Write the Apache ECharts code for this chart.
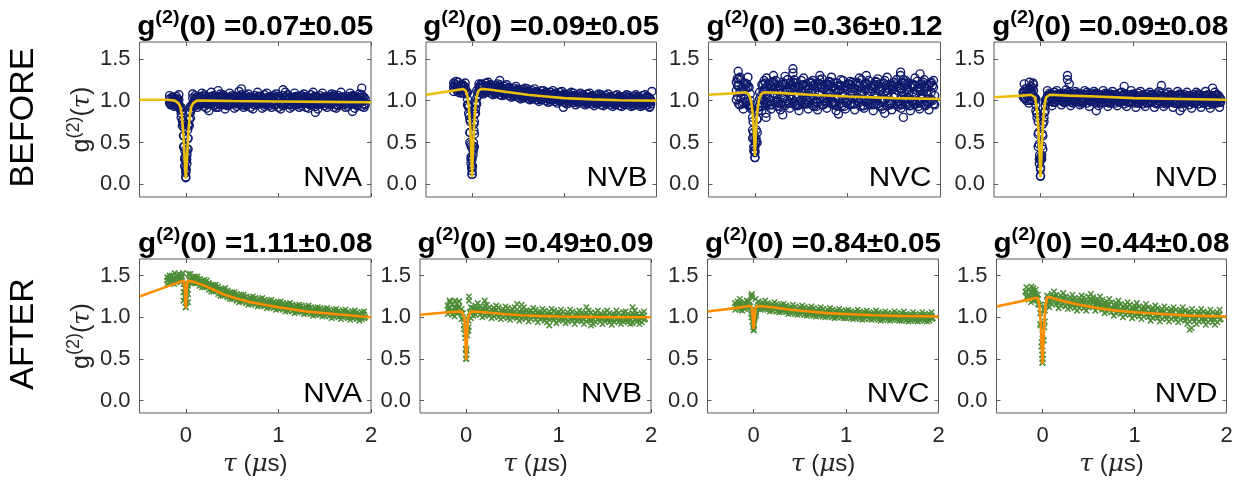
<!DOCTYPE html>
<html><head><meta charset="utf-8">
<script src="https://cdn.jsdelivr.net/npm/echarts@6/dist/echarts.min.js"></script>
<style>html,body{margin:0;padding:0;background:#fff}#c{width:1249px;height:489px}</style>
</head><body><div id="c"></div>
<script>
// ---------- shared sample grids (tau, microseconds) ----------
const XA = [-0.2,-0.15,-0.1,-0.05,0,0.05,0.1,0.15,0.2,0.25,0.3,0.35,0.4,0.45,0.5,0.55,0.6,0.65,0.7,0.75,0.8,0.85,0.9,0.95,1,1.05,1.1,1.15,1.2,1.25,1.3,1.35,1.4,1.45,1.5,1.55,1.6,1.65,1.7,1.75,1.8,1.85,1.9];
const XB = [-0.175,-0.125,-0.075,-0.025,0.025,0.075,0.125,0.175,0.225,0.275,0.325,0.375,0.425,0.475,0.525,0.575,0.625,0.675,0.725,0.775,0.825,0.875,0.925,0.975,1.025,1.075,1.125,1.175,1.225,1.275,1.325,1.375,1.425,1.475,1.525,1.575,1.625,1.675,1.725,1.775,1.825,1.875,1.925];
const XC = [-0.1875,-0.1375,-0.0875,-0.0375,0.0125,0.0625,0.1125,0.1625,0.2125,0.2625,0.3125,0.3625,0.4125,0.4625,0.5125,0.5625,0.6125,0.6625,0.7125,0.7625,0.8125,0.8625,0.9125,0.9625,1.0125,1.0625,1.1125,1.1625,1.2125,1.2625,1.3125,1.3625,1.4125,1.4625,1.5125,1.5625,1.6125,1.6625,1.7125,1.7625,1.8125,1.8625,1.9125];
const XD = [-0.1625,-0.1125,-0.0625,-0.0125,0.0375,0.0875,0.1375,0.1875,0.2375,0.2875,0.3375,0.3875,0.4375,0.4875,0.5375,0.5875,0.6375,0.6875,0.7375,0.7875,0.8375,0.8875,0.9375,0.9875,1.0375,1.0875,1.1375,1.1875,1.2375,1.2875,1.3375,1.3875,1.4375,1.4875,1.5375,1.5875,1.6375,1.6875,1.7375,1.7875,1.8375,1.8875,1.9375];
const xTicks = [0, 1, 2];
const yTicks = [0, 0.5, 1, 1.5];
const emitters = ['NVA','NVB','NVC','NVD'];
const rowLabels = ['BEFORE','AFTER'];
const g0Before = ['0.07\u00b10.05','0.09\u00b10.05','0.36\u00b10.12','0.09\u00b10.08'];
const g0After  = ['1.11\u00b10.08','0.49\u00b10.09','0.84\u00b10.05','0.44\u00b10.08'];

// ---------- BEFORE: NVA (rows 1,3,5 on XA; 2,4,6 on XB; 7,9 on XC; 8,10 on XD) ----------
const B_NVA_1 = [null,1.04,1.05,0.92,0.28,0.93,1.06,1.05,1.07,1.04,1.06,1.05,1.07,1.04,1.06,1.05,1.07,1.06,1.04,1.06,1.05,1.07,1.04,1.06,1.05,1.06,1.07,1.04,1.05,1.06,1.04,1.07,1.05,1.06,1.04,1.05,1.07,1.06,1.04,1.05,1.06,1.04,1.07];
const B_NVA_3 = [null,0.99,1.00,0.85,0.16,0.86,1.01,0.99,1.02,1.00,0.98,1.01,0.99,1.02,1.00,0.98,1.01,0.99,1.00,1.02,0.98,1.00,1.01,0.99,1.02,0.98,1.00,1.01,0.99,1.00,1.02,0.98,1.01,0.99,1.00,1.02,0.99,1.00,0.98,1.01,0.99,1.02,1.00];
const B_NVA_5 = [null,0.95,0.94,0.80,0.08,0.79,0.94,0.95,0.93,0.96,0.94,0.92,0.95,0.94,0.96,0.93,0.95,0.94,0.92,0.95,0.96,0.93,0.94,0.95,0.92,0.94,0.96,0.93,0.95,0.94,0.92,0.95,0.93,0.96,0.94,0.95,0.92,0.94,0.95,0.93,0.96,0.94,0.93];
const B_NVA_2 = [1.02,1.03,1.01,0.72,0.70,1.03,1.04,1.02,1.03,1.05,1.02,1.04,1.03,1.02,1.04,1.03,1.05,1.02,1.03,1.04,1.02,1.03,1.05,1.03,1.02,1.04,1.03,1.02,1.04,1.05,1.03,1.02,1.04,1.03,1.05,1.02,1.03,1.04,1.02,1.03,1.05,1.03,1.04];
const B_NVA_4 = [0.97,0.96,0.95,0.58,0.55,0.96,0.97,0.98,0.96,0.97,0.95,0.98,0.97,0.96,0.98,0.97,0.95,0.97,0.98,0.96,0.97,0.95,0.98,0.96,0.97,0.98,0.95,0.97,0.96,0.98,0.97,0.95,0.97,0.98,0.96,0.97,0.95,0.98,0.97,0.96,0.97,0.98,0.96];
const B_NVA_6 = [1.06,0.93,1.07,0.45,0.42,1.08,0.92,1.09,0.91,1.10,0.92,1.08,0.90,1.09,0.91,1.11,0.92,1.08,0.90,1.10,0.91,1.09,0.92,1.08,0.90,1.10,0.91,1.09,0.92,1.08,0.91,1.10,0.90,1.09,0.92,1.08,0.91,1.10,0.92,1.09,0.91,1.08,0.92];
const B_NVA_7 = [null,1.01,0.97,0.76,0.35,0.93,0.99,1.03,0.98,1.01,1.03,0.99,1.02,0.98,1.01,1.03,0.99,1.01,0.98,1.02,1.00,0.98,1.03,0.99,1.01,0.98,1.02,1.00,0.99,1.03,0.98,1.01,1.00,1.02,0.98,1.01,1.03,0.99,1.00,1.02,0.98,1.01,0.99];
const B_NVA_8 = [0.98,1.02,0.92,0.30,0.78,0.97,1.02,0.97,1.01,0.99,1.02,0.97,1.00,1.03,0.98,1.00,1.02,0.97,1.01,0.99,1.03,0.98,1.00,1.02,0.97,1.01,0.99,1.02,0.98,1.00,1.03,0.97,1.01,0.99,1.02,0.98,1.00,1.01,0.97,1.02,0.99,1.00,1.02];
const B_NVA_9 = [null,1.04,1.02,0.70,0.25,0.90,1.04,0.96,1.05,0.97,1.04,0.96,1.05,0.95,1.04,0.97,1.05,0.96,1.04,0.97,1.05,0.96,1.04,0.95,1.05,0.97,1.04,0.96,1.05,0.97,1.04,0.95,1.05,0.96,1.04,0.97,1.05,0.96,1.04,0.97,1.05,0.95,1.04];
const B_NVA_10 = [0.95,0.98,0.90,0.22,0.70,0.99,0.95,1.05,0.96,1.04,0.97,1.05,0.95,1.04,0.96,1.05,0.97,1.04,0.95,1.05,0.96,1.04,0.97,1.05,0.95,1.04,0.96,1.05,0.97,1.04,0.95,1.05,0.96,1.04,0.97,1.05,0.95,1.04,0.96,1.05,0.97,1.04,0.95];
const B_NVA_exX = [-0.04,-0.03,-0.02,-0.015,-0.01,-0.005,0,0.005,0.01,0.015,0.02,0.03,0.04,-0.02,0.02,-0.01,0.01,0,0.35,0.6,1.05,1.9,1.4,1.8,0.25];
const B_NVA_exY = [0.88,0.75,0.58,0.45,0.32,0.20,0.09,0.18,0.30,0.42,0.55,0.72,0.86,0.68,0.65,0.40,0.38,0.14,1.12,1.14,1.13,1.15,0.86,0.87,0.88];
const B_NVA_fitX = [-0.5,-0.2,-0.12,-0.08,-0.06,-0.045,-0.03,-0.02,-0.01,0,0.01,0.02,0.03,0.045,0.06,0.08,0.12,0.2,0.5,1.0,1.5,2.0];
const B_NVA_fitY = [1.01,1.01,1.0,0.97,0.93,0.84,0.66,0.47,0.25,0.07,0.25,0.47,0.66,0.84,0.93,0.97,1.0,1.0,0.995,0.99,0.985,0.98];

// ---------- BEFORE: NVB ----------
const B_NVB_1 = [1.21,1.22,1.19,1.10,0.30,1.12,1.20,1.21,1.19,1.18,1.19,1.17,1.16,1.15,1.14,1.13,1.14,1.12,1.11,1.12,1.10,1.10,1.09,1.10,1.08,1.08,1.09,1.07,1.07,1.08,1.06,1.06,1.07,1.06,1.05,1.06,1.05,1.05,1.06,1.05,1.05,1.06,1.05];
const B_NVB_3 = [1.16,1.15,1.16,1.02,0.20,1.03,1.15,1.16,1.14,1.13,1.12,1.12,1.11,1.10,1.09,1.08,1.08,1.07,1.06,1.06,1.05,1.05,1.04,1.04,1.03,1.03,1.02,1.02,1.02,1.01,1.01,1.01,1.00,1.01,1.00,1.00,0.99,1.00,1.00,0.99,1.00,1.00,0.99];
const B_NVB_5 = [1.11,1.10,1.09,0.95,0.12,0.96,1.09,1.10,1.09,1.08,1.07,1.07,1.06,1.05,1.04,1.03,1.03,1.02,1.01,1.01,1.00,0.99,0.99,0.99,0.98,0.97,0.98,0.97,0.97,0.96,0.96,0.96,0.95,0.96,0.95,0.95,0.94,0.95,0.95,0.94,0.95,0.94,0.95];
const B_NVB_2 = [1.19,1.18,1.16,0.78,0.75,1.16,1.17,1.17,1.16,1.15,1.15,1.14,1.13,1.12,1.11,1.10,1.10,1.09,1.08,1.08,1.07,1.07,1.06,1.06,1.05,1.05,1.05,1.04,1.04,1.04,1.03,1.03,1.04,1.03,1.02,1.03,1.02,1.03,1.02,1.02,1.03,1.02,1.03];
const B_NVB_4 = [1.14,1.13,1.10,0.62,0.60,1.11,1.12,1.12,1.11,1.10,1.10,1.09,1.08,1.07,1.06,1.05,1.05,1.04,1.03,1.03,1.02,1.02,1.01,1.01,1.00,1.00,1.00,0.99,0.99,1.00,0.98,0.98,0.99,0.98,0.97,0.98,0.97,0.98,0.97,0.97,0.98,0.97,0.98];
const B_NVB_6 = [1.23,1.09,1.21,0.50,0.45,1.20,1.08,1.22,1.07,1.20,1.06,1.19,1.04,1.17,1.02,1.15,1.01,1.14,0.99,1.12,0.98,1.12,0.97,1.11,0.96,1.10,0.95,1.09,0.95,1.09,0.94,1.08,0.94,1.08,0.93,1.07,0.93,1.07,0.93,1.07,0.93,1.07,0.92];
const B_NVB_7 = [1.17,1.14,1.13,0.92,0.45,1.10,1.16,1.13,1.15,1.12,1.14,1.11,1.12,1.09,1.10,1.09,1.07,1.08,1.05,1.07,1.04,1.06,1.03,1.05,1.02,1.04,1.01,1.03,1.01,1.02,1.00,1.02,0.99,1.02,0.99,1.01,0.99,1.01,0.98,1.01,0.99,1.00,0.99];
const B_NVB_8 = [1.15,1.17,1.10,0.30,0.90,1.14,1.14,1.16,1.12,1.14,1.11,1.13,1.09,1.11,1.07,1.09,1.06,1.08,1.05,1.06,1.03,1.06,1.02,1.04,1.01,1.04,1.02,1.03,1.00,1.03,0.99,1.02,1.00,1.01,0.98,1.01,1.00,0.99,1.01,0.98,1.00,0.99,1.01];
const B_NVB_9 = [1.20,1.12,1.17,0.85,0.40,1.06,1.19,1.11,1.18,1.09,1.16,1.08,1.14,1.06,1.12,1.04,1.11,1.03,1.10,1.02,1.09,1.01,1.08,1.00,1.07,0.99,1.06,0.98,1.06,0.98,1.05,0.97,1.05,0.97,1.04,0.96,1.04,0.96,1.04,0.96,1.04,0.96,1.04];
const B_NVB_10 = [1.12,1.19,1.08,0.25,0.85,1.18,1.11,1.19,1.10,1.17,1.09,1.15,1.07,1.13,1.05,1.12,1.04,1.10,1.03,1.09,1.02,1.08,1.01,1.07,1.00,1.06,0.99,1.06,0.98,1.05,0.98,1.05,0.97,1.04,0.97,1.04,0.96,1.04,0.96,1.04,0.96,1.04,0.96];
const B_NVB_exX = [-0.04,-0.03,-0.02,-0.015,-0.01,-0.005,0,0.005,0.01,0.015,0.02,0.03,0.04,-0.01,0.01,0,-0.02,0.02,0.3,1.95,0.99,1.93];
const B_NVB_exY = [0.95,0.82,0.62,0.48,0.33,0.20,0.12,0.22,0.35,0.50,0.64,0.84,0.97,0.45,0.42,0.16,0.75,0.72,1.24,1.11,0.92,0.93];
const B_NVB_fitX = [-0.5,-0.2,-0.1,-0.07,-0.05,-0.035,-0.02,-0.01,0,0.01,0.02,0.035,0.05,0.07,0.1,0.2,0.4,0.6,0.8,1.0,1.3,1.6,2.0];
const B_NVB_fitY = [1.07,1.12,1.14,1.12,1.05,0.92,0.68,0.42,0.09,0.42,0.68,0.92,1.05,1.12,1.14,1.13,1.10,1.07,1.05,1.03,1.015,1.005,1.0];

// ---------- BEFORE: NVC ----------
const B_NVC_1 = [1.22,1.25,1.19,1.08,0.45,1.10,1.24,1.20,1.23,1.18,1.22,1.25,1.19,1.21,1.24,1.18,1.22,1.20,1.25,1.19,1.23,1.21,1.18,1.24,1.20,1.22,1.19,1.25,1.21,1.18,1.23,1.20,1.24,1.19,1.22,1.18,1.25,1.21,1.19,1.23,1.20,1.18,1.22];
const B_NVC_3 = [1.12,1.10,1.14,1.00,0.38,1.02,1.11,1.15,1.09,1.13,1.10,1.12,1.14,1.08,1.11,1.13,1.09,1.12,1.10,1.14,1.08,1.12,1.11,1.09,1.13,1.10,1.12,1.08,1.14,1.11,1.09,1.12,1.10,1.13,1.08,1.11,1.09,1.13,1.10,1.12,1.08,1.11,1.10];
const B_NVC_5 = [1.01,1.03,0.99,0.92,0.32,0.93,1.00,1.02,1.04,0.99,1.03,1.00,1.02,1.04,0.98,1.01,1.03,0.99,1.02,1.00,1.04,0.98,1.02,1.01,0.99,1.03,1.00,1.02,0.98,1.01,1.03,0.99,1.02,1.00,1.04,0.99,1.01,1.03,0.98,1.00,1.02,0.99,1.01];
const B_NVC_2 = [1.18,1.15,1.17,0.80,0.78,1.19,1.16,1.18,1.14,1.17,1.19,1.15,1.17,1.16,1.19,1.14,1.18,1.16,1.15,1.19,1.17,1.14,1.18,1.16,1.19,1.15,1.17,1.18,1.14,1.17,1.19,1.16,1.15,1.18,1.17,1.14,1.19,1.16,1.18,1.15,1.17,1.19,1.16];
const B_NVC_4 = [0.96,0.98,0.95,0.65,0.62,0.94,0.97,0.95,0.98,0.96,0.94,0.97,0.99,0.95,0.96,0.98,0.94,0.97,0.95,0.98,0.96,0.94,0.97,0.99,0.95,0.96,0.98,0.94,0.97,0.95,0.96,0.98,0.94,0.97,0.96,0.95,0.98,0.94,0.96,0.97,0.95,0.98,0.96];
const B_NVC_6 = [1.26,0.90,1.28,0.55,0.50,0.88,1.27,0.90,1.24,0.89,1.29,0.91,1.25,0.88,1.27,0.90,1.24,0.89,1.26,0.91,1.28,0.88,1.25,0.90,1.23,0.89,1.27,0.91,1.24,0.88,1.26,0.90,1.28,0.89,1.25,0.91,1.24,0.88,1.27,0.90,1.25,0.89,1.24];
const B_NVC_7 = [1.05,1.15,0.98,0.95,0.55,1.05,1.14,1.00,1.08,1.17,1.03,1.10,0.97,1.15,1.06,1.01,1.12,0.99,1.16,1.04,1.09,0.97,1.13,1.06,1.00,1.15,1.03,1.09,0.98,1.14,1.05,1.01,1.12,0.97,1.08,1.15,1.02,1.10,0.99,1.14,1.04,1.07,1.00];
const B_NVC_8 = [1.10,1.02,1.16,0.45,0.92,1.12,0.99,1.15,1.04,0.98,1.11,1.06,1.16,1.00,1.09,1.14,0.97,1.07,1.02,1.13,0.99,1.10,1.05,0.97,1.15,1.03,1.08,1.13,0.99,1.06,1.16,1.01,1.09,1.14,0.98,1.05,1.12,1.00,1.08,1.03,1.15,0.99,1.06];
const B_NVC_9 = [1.18,0.96,1.20,0.90,0.50,0.98,1.21,0.95,1.19,0.93,1.20,0.97,1.22,0.94,1.18,0.96,1.21,0.93,1.19,0.97,1.22,0.95,1.18,0.93,1.20,0.96,1.21,0.94,1.19,0.97,1.22,0.93,1.18,0.95,1.20,0.96,1.21,0.94,1.19,0.93,1.22,0.96,1.18];
const B_NVC_10 = [0.95,1.21,0.94,0.40,0.88,1.20,0.96,1.22,0.93,1.19,0.97,1.21,0.94,1.18,0.96,1.22,0.93,1.20,0.95,1.19,0.97,1.21,0.94,1.18,0.96,1.22,0.93,1.20,0.95,1.19,0.94,1.21,0.97,1.18,0.93,1.22,0.95,1.20,0.96,1.19,0.94,1.21,0.95];
const B_NVC_exX = [-0.18,-0.16,0.41,0.41,1.57,1.57,1.78,0.12,0.12,1.6,0.7,1.2,0.3,-0.02,-0.01,0,0.01,0.02,0,-0.015,0.015,-0.19,0.2,0.9,1.4];
const B_NVC_exY = [1.35,1.28,1.38,1.33,1.34,1.30,1.32,0.85,0.80,0.80,1.30,1.30,0.83,0.75,0.55,0.32,0.52,0.78,0.40,0.62,0.65,1.26,1.30,0.84,0.85];
const B_NVC_fitX = [-0.5,-0.2,-0.1,-0.07,-0.05,-0.035,-0.02,-0.01,0,0.01,0.02,0.035,0.05,0.07,0.1,0.3,0.6,1.0,1.5,2.0];
const B_NVC_fitY = [1.07,1.09,1.10,1.08,1.03,0.95,0.80,0.60,0.34,0.60,0.80,0.95,1.03,1.08,1.10,1.09,1.07,1.05,1.03,1.02];

// ---------- BEFORE: NVD ----------
const B_NVD_1 = [null,1.14,1.17,1.02,0.30,1.00,1.09,1.10,1.08,1.09,1.10,1.08,1.09,1.08,1.10,1.08,1.09,1.07,1.09,1.08,1.07,1.09,1.08,1.07,1.08,1.09,1.07,1.08,1.07,1.08,1.06,1.08,1.07,1.06,1.08,1.07,1.06,1.07,1.08,1.06,1.07,1.06,1.07];
const B_NVD_3 = [null,1.07,1.10,0.95,0.18,0.94,1.04,1.05,1.03,1.04,1.05,1.03,1.04,1.03,1.04,1.05,1.03,1.04,1.03,1.02,1.04,1.03,1.02,1.04,1.03,1.02,1.03,1.04,1.02,1.03,1.02,1.03,1.01,1.02,1.03,1.02,1.01,1.02,1.03,1.01,1.02,1.01,1.02];
const B_NVD_5 = [null,1.00,1.01,0.88,0.10,0.87,0.99,0.98,1.00,0.98,0.99,0.97,0.99,0.98,0.97,0.99,0.98,0.97,0.98,0.99,0.97,0.98,0.96,0.98,0.97,0.98,0.96,0.97,0.98,0.96,0.97,0.96,0.98,0.97,0.96,0.97,0.95,0.97,0.96,0.97,0.95,0.96,0.97];
const B_NVD_2 = [1.11,1.14,1.12,0.75,0.72,1.06,1.07,1.06,1.07,1.08,1.06,1.07,1.06,1.07,1.05,1.07,1.06,1.05,1.07,1.06,1.05,1.06,1.05,1.06,1.04,1.06,1.05,1.04,1.05,1.06,1.04,1.05,1.04,1.05,1.04,1.03,1.05,1.04,1.03,1.05,1.04,1.03,1.04];
const B_NVD_4 = [1.03,1.05,1.04,0.60,0.58,1.01,1.02,1.01,1.00,1.02,1.01,1.00,1.02,1.01,1.00,1.01,1.00,1.02,0.99,1.01,1.00,0.99,1.01,1.00,0.99,1.00,1.01,0.99,1.00,0.99,1.00,0.98,1.00,0.99,0.98,1.00,0.99,0.98,0.99,1.00,0.98,0.99,0.98];
const B_NVD_6 = [1.20,0.97,1.19,0.45,0.42,1.12,0.94,1.12,0.95,1.13,0.94,1.11,0.95,1.12,0.93,1.11,0.94,1.12,0.93,1.11,0.94,1.10,0.93,1.12,0.92,1.11,0.93,1.10,0.92,1.11,0.93,1.10,0.92,1.11,0.92,1.10,0.91,1.10,0.92,1.11,0.91,1.10,0.92];
const B_NVD_7 = [1.05,1.12,1.08,0.85,0.35,1.02,1.05,1.01,1.06,1.02,1.04,1.00,1.05,1.03,1.01,1.06,1.02,1.04,1.00,1.05,1.02,1.03,1.00,1.05,1.01,1.03,0.99,1.04,1.02,1.00,1.04,1.01,1.03,0.99,1.04,1.01,1.02,0.99,1.03,1.01,1.00,1.03,1.00];
const B_NVD_8 = [1.02,1.15,1.00,0.30,0.80,1.06,1.02,1.06,1.01,1.05,1.02,1.06,1.00,1.04,1.02,1.05,1.01,1.03,1.05,1.00,1.04,1.02,1.05,1.00,1.03,1.01,1.04,1.00,1.03,1.02,0.99,1.04,1.01,1.03,1.00,1.02,1.04,0.99,1.02,1.01,1.03,0.99,1.02];
const B_NVD_9 = [1.10,1.05,1.15,0.80,0.30,0.98,1.08,0.99,1.07,0.98,1.08,0.99,1.07,0.98,1.08,0.99,1.07,0.98,1.08,0.97,1.07,0.99,1.06,0.98,1.07,0.97,1.06,0.98,1.07,0.97,1.06,0.98,1.06,0.97,1.07,0.97,1.06,0.98,1.06,0.97,1.06,0.97,1.06];
const B_NVD_10 = [1.14,1.00,1.04,0.25,0.75,1.05,0.98,1.08,0.99,1.07,0.98,1.08,0.97,1.07,0.99,1.08,0.98,1.06,0.97,1.07,0.99,1.06,0.98,1.07,0.97,1.06,0.98,1.07,0.97,1.06,0.98,1.06,0.97,1.07,0.98,1.06,0.97,1.06,0.98,1.06,0.97,1.06,0.98];
const B_NVD_exX = [0.29,0.29,0.31,1.3,-0.12,-0.08,0.9,1.5,-0.02,-0.01,0,0.01,0.02,0,-0.015,0.015,-0.04,0.04,1.85,0.6];
const B_NVD_exY = [1.30,1.25,1.20,1.18,1.22,1.21,1.17,0.88,0.62,0.35,0.10,0.33,0.60,0.20,0.48,0.46,0.85,0.86,1.15,0.88];
const B_NVD_fitX = [-0.5,-0.2,-0.1,-0.06,-0.045,-0.03,-0.02,-0.01,0,0.01,0.02,0.03,0.045,0.06,0.1,0.3,0.6,1.0,1.5,2.0];
const B_NVD_fitY = [1.04,1.06,1.07,1.04,0.95,0.78,0.60,0.35,0.09,0.35,0.60,0.78,0.95,1.04,1.07,1.06,1.05,1.03,1.02,1.01];

// ---------- AFTER: NVA ----------
const A_NVA_1 = [1.48,1.50,1.49,1.51,1.35,1.52,1.49,1.46,1.45,1.41,1.39,1.37,1.34,1.32,1.30,1.28,1.27,1.25,1.24,1.23,1.22,1.21,1.20,1.19,1.18,1.17,1.16,1.15,1.14,1.14,1.13,1.12,1.11,1.11,1.10,1.09,1.09,1.08,1.08,1.07,1.07,1.06,1.06];
const A_NVA_3 = [1.44,1.46,1.45,1.48,1.22,1.46,1.45,1.43,1.39,1.38,1.34,1.33,1.29,1.28,1.27,1.24,1.22,1.21,1.21,1.18,1.18,1.16,1.16,1.15,1.13,1.13,1.12,1.12,1.10,1.09,1.09,1.08,1.08,1.06,1.06,1.05,1.04,1.04,1.03,1.03,1.02,1.02,1.01];
const A_NVA_5 = [1.40,1.41,1.42,1.43,1.12,1.43,1.41,1.38,1.36,1.33,1.31,1.28,1.26,1.24,1.22,1.20,1.19,1.17,1.16,1.15,1.14,1.13,1.12,1.11,1.10,1.09,1.08,1.07,1.06,1.06,1.05,1.04,1.03,1.03,1.02,1.01,1.01,1.00,1.00,0.99,0.99,0.98,0.98];
const A_NVA_2 = [1.47,1.47,1.49,1.40,1.38,1.48,1.46,1.43,1.40,1.38,1.35,1.33,1.31,1.29,1.27,1.26,1.24,1.22,1.22,1.20,1.19,1.19,1.17,1.17,1.15,1.15,1.13,1.13,1.12,1.11,1.11,1.09,1.09,1.08,1.08,1.07,1.06,1.06,1.05,1.05,1.04,1.04,1.03];
const A_NVA_4 = [1.42,1.44,1.44,1.30,1.28,1.44,1.41,1.39,1.37,1.34,1.32,1.29,1.27,1.25,1.23,1.22,1.20,1.19,1.17,1.17,1.15,1.15,1.13,1.13,1.11,1.11,1.09,1.09,1.08,1.07,1.07,1.05,1.05,1.04,1.04,1.03,1.02,1.02,1.01,1.01,1.00,1.00,0.99];
const A_NVA_6 = [1.50,1.40,1.52,1.20,1.18,1.41,1.49,1.36,1.44,1.31,1.39,1.26,1.35,1.22,1.30,1.18,1.27,1.15,1.25,1.13,1.23,1.11,1.21,1.09,1.19,1.07,1.17,1.05,1.15,1.04,1.14,1.02,1.12,1.01,1.11,0.99,1.10,0.98,1.09,0.97,1.08,0.96,1.07];
const A_NVA_7 = [1.46,1.47,1.49,1.49,1.35,1.48,1.47,1.43,1.42,1.38,1.37,1.33,1.32,1.29,1.28,1.25,1.25,1.22,1.22,1.20,1.20,1.18,1.18,1.16,1.16,1.14,1.14,1.12,1.12,1.11,1.11,1.09,1.09,1.08,1.08,1.06,1.07,1.05,1.06,1.04,1.05,1.03,1.04];
const A_NVA_8 = [1.42,1.43,1.44,1.30,1.45,1.45,1.42,1.40,1.37,1.35,1.32,1.30,1.28,1.26,1.24,1.22,1.21,1.19,1.18,1.17,1.16,1.15,1.14,1.13,1.12,1.11,1.10,1.09,1.08,1.08,1.07,1.06,1.05,1.05,1.04,1.03,1.03,1.02,1.02,1.01,1.01,1.00,1.00];
const A_NVA_exX = [-0.01,-0.005,0,0.005,0.01,0,0,-0.005,0.005,-0.12,-0.03,0.03];
const A_NVA_exY = [1.35,1.25,1.12,1.22,1.33,1.18,1.28,1.40,1.38,1.53,1.53,1.52];
const A_NVA_fitX = [-0.5,-0.25,-0.1,-0.02,-0.01,-0.005,0,0.005,0.01,0.02,0.1,0.2,0.3,0.4,0.5,0.7,1.0,1.3,1.6,2.0];
const A_NVA_fitY = [1.25,1.35,1.41,1.44,1.35,1.20,1.11,1.20,1.35,1.44,1.42,1.38,1.33,1.28,1.24,1.18,1.12,1.07,1.04,1.00];

// ---------- AFTER: NVB ----------
const A_NVB_1 = [1.14,1.15,1.16,1.10,0.80,1.12,1.14,1.13,1.14,1.12,1.11,1.12,1.10,1.11,1.10,1.09,1.10,1.08,1.08,1.09,1.07,1.08,1.07,1.08,1.06,1.07,1.06,1.07,1.05,1.06,1.05,1.06,1.05,1.04,1.06,1.05,1.04,1.05,1.06,1.04,1.05,1.04,1.05];
const A_NVB_3 = [1.09,1.08,1.10,1.04,0.62,1.05,1.09,1.08,1.07,1.07,1.06,1.05,1.05,1.06,1.04,1.04,1.05,1.03,1.03,1.04,1.02,1.03,1.02,1.01,1.02,1.01,1.02,1.00,1.01,1.02,1.00,0.99,1.00,1.01,0.99,1.00,1.01,0.99,1.00,0.99,1.01,1.00,0.99];
const A_NVB_5 = [1.04,1.03,1.05,0.98,0.50,0.99,1.03,1.03,1.02,1.02,1.01,1.00,1.00,0.99,1.00,0.99,0.98,0.99,0.98,0.97,0.98,0.96,0.97,0.97,0.96,0.96,0.95,0.96,0.96,0.95,0.95,0.96,0.94,0.95,0.95,0.94,0.95,0.94,0.95,0.94,0.93,0.95,0.94];
const A_NVB_2 = [1.12,1.11,1.12,0.98,0.96,1.11,1.12,1.10,1.10,1.09,1.09,1.08,1.07,1.08,1.07,1.06,1.06,1.07,1.05,1.06,1.05,1.05,1.04,1.05,1.04,1.03,1.04,1.03,1.03,1.04,1.02,1.03,1.02,1.03,1.02,1.02,1.03,1.02,1.01,1.02,1.03,1.01,1.02];
const A_NVB_4 = [1.06,1.07,1.06,0.90,0.88,1.06,1.06,1.05,1.04,1.04,1.03,1.03,1.02,1.02,1.01,1.02,1.01,1.00,1.01,1.00,0.99,1.00,0.99,1.00,0.98,0.99,0.98,0.99,0.97,0.98,0.97,0.98,0.97,0.98,0.97,0.96,0.98,0.97,0.96,0.97,0.98,0.96,0.97];
const A_NVB_6 = [1.18,1.01,1.19,0.86,0.84,1.02,1.17,1.00,1.15,0.99,1.14,0.98,1.13,0.97,1.12,0.96,1.12,0.95,1.11,0.94,1.10,0.94,1.10,0.93,1.09,0.93,1.09,0.92,1.08,0.92,1.08,0.92,1.08,0.92,1.08,0.91,1.08,0.92,1.07,0.92,1.08,0.92,1.07];
const A_NVB_7 = [1.11,1.07,1.12,1.05,0.85,1.07,1.10,1.07,1.09,1.05,1.07,1.04,1.06,1.03,1.05,1.02,1.05,1.02,1.04,1.01,1.03,1.00,1.03,1.00,1.02,0.99,1.02,0.99,1.01,0.98,1.02,0.99,1.01,0.98,1.01,0.98,1.01,0.97,1.01,0.98,1.00,0.97,1.01];
const A_NVB_8 = [1.07,1.12,1.06,0.80,1.06,1.11,1.07,1.10,1.06,1.08,1.04,1.07,1.03,1.06,1.02,1.05,1.01,1.04,1.01,1.03,1.00,1.03,0.99,1.02,0.99,1.02,0.98,1.02,0.99,1.01,0.98,1.01,0.99,1.00,0.97,1.01,0.98,1.00,0.97,1.01,0.98,1.00,0.98];
const A_NVB_exX = [-0.01,-0.005,0,0.005,0.01,0,0.03,0.03,-0.12,-0.08,0.6,0.9,1.35,0.2,1.3,1.8,-0.18,0.55];
const A_NVB_exY = [0.75,0.62,0.50,0.60,0.78,0.55,1.25,1.20,1.20,1.19,1.15,0.90,0.90,1.20,1.12,1.12,1.20,1.16];
const A_NVB_fitX = [-0.5,-0.2,-0.05,-0.02,-0.01,-0.005,0,0.005,0.01,0.02,0.05,0.2,0.4,0.6,0.8,1.0,1.3,1.6,2.0];
const A_NVB_fitY = [1.03,1.06,1.07,1.00,0.80,0.62,0.49,0.62,0.80,1.00,1.07,1.06,1.04,1.025,1.015,1.01,1.005,1.0,1.0];

// ---------- AFTER: NVC ----------
const A_NVC_1 = [1.17,1.18,1.18,1.19,1.00,1.19,1.18,1.17,1.16,1.16,1.15,1.14,1.13,1.13,1.12,1.12,1.11,1.11,1.10,1.10,1.09,1.09,1.08,1.08,1.08,1.07,1.07,1.07,1.06,1.06,1.06,1.06,1.05,1.05,1.05,1.05,1.05,1.04,1.04,1.04,1.04,1.04,1.04];
const A_NVC_3 = [1.13,1.14,1.13,1.15,0.92,1.15,1.14,1.13,1.12,1.12,1.11,1.10,1.09,1.08,1.08,1.08,1.07,1.06,1.06,1.05,1.05,1.05,1.04,1.04,1.04,1.03,1.03,1.03,1.02,1.03,1.02,1.02,1.01,1.02,1.01,1.01,1.01,1.00,1.01,1.00,1.00,1.01,1.00];
const A_NVC_5 = [1.09,1.09,1.10,1.10,0.85,1.11,1.10,1.09,1.08,1.07,1.07,1.06,1.05,1.04,1.04,1.03,1.03,1.02,1.02,1.01,1.01,1.00,1.00,1.00,0.99,0.99,0.99,0.98,0.98,0.98,0.98,0.97,0.97,0.97,0.97,0.97,0.96,0.96,0.96,0.96,0.96,0.96,0.96];
const A_NVC_2 = [1.15,1.16,1.16,1.08,1.09,1.16,1.15,1.14,1.14,1.13,1.12,1.11,1.11,1.10,1.10,1.09,1.09,1.08,1.08,1.07,1.07,1.07,1.06,1.06,1.06,1.05,1.05,1.05,1.04,1.04,1.04,1.04,1.03,1.03,1.03,1.03,1.03,1.02,1.02,1.02,1.02,1.02,1.02];
const A_NVC_4 = [1.11,1.12,1.12,1.04,1.05,1.12,1.11,1.10,1.10,1.09,1.08,1.07,1.07,1.06,1.06,1.05,1.05,1.04,1.04,1.03,1.03,1.03,1.02,1.02,1.02,1.01,1.01,1.01,1.00,1.00,1.00,1.00,0.99,0.99,0.99,0.99,0.99,0.98,0.98,0.98,0.98,0.98,0.98];
const A_NVC_6 = [1.19,1.08,1.20,1.00,1.02,1.09,1.20,1.07,1.18,1.06,1.16,1.04,1.15,1.03,1.14,1.02,1.13,1.01,1.12,1.00,1.11,0.99,1.10,0.99,1.09,0.98,1.09,0.97,1.08,0.97,1.08,0.96,1.07,0.96,1.07,0.96,1.07,0.95,1.06,0.95,1.06,0.95,1.06];
const A_NVC_7 = [1.14,1.12,1.15,1.13,1.00,1.14,1.15,1.12,1.13,1.11,1.12,1.09,1.10,1.07,1.09,1.06,1.08,1.05,1.07,1.04,1.06,1.03,1.05,1.03,1.05,1.02,1.04,1.01,1.04,1.01,1.03,1.00,1.03,1.00,1.02,1.00,1.02,0.99,1.02,0.99,1.01,0.99,1.01];
const A_NVC_8 = [1.12,1.15,1.13,0.95,1.12,1.16,1.12,1.14,1.10,1.12,1.09,1.11,1.07,1.09,1.06,1.08,1.05,1.07,1.04,1.06,1.03,1.05,1.03,1.04,1.02,1.04,1.01,1.03,1.01,1.02,1.00,1.02,1.00,1.02,0.99,1.01,0.99,1.01,0.98,1.01,0.98,1.00,0.99];
const A_NVC_exX = [-0.02,-0.02,-0.01,-0.005,0,0.005,0.01,0,-0.15,-0.025,0.02];
const A_NVC_exY = [1.28,1.24,0.95,0.88,0.84,0.90,0.98,0.92,1.22,1.26,1.22];
const A_NVC_fitX = [-0.5,-0.2,-0.05,-0.02,-0.01,-0.005,0,0.005,0.01,0.02,0.05,0.2,0.4,0.6,0.8,1.0,1.3,1.6,2.0];
const A_NVC_fitY = [1.07,1.11,1.135,1.12,1.00,0.92,0.86,0.92,1.00,1.12,1.135,1.12,1.09,1.07,1.05,1.04,1.025,1.015,1.01];

// ---------- AFTER: NVD ----------
const A_NVD_1 = [null,1.34,1.32,1.27,0.80,1.26,1.28,1.27,1.26,1.25,1.24,1.23,1.23,1.24,1.25,1.24,1.22,1.21,1.19,1.18,1.17,1.16,1.15,1.15,1.14,1.13,1.13,1.12,1.11,1.11,1.10,1.10,1.10,1.09,1.09,1.08,1.07,1.07,1.07,1.07,1.06,1.06,1.06];
const A_NVD_3 = [null,1.27,1.26,1.22,0.60,1.19,1.22,1.21,1.20,1.19,1.18,1.17,1.16,1.17,1.18,1.19,1.17,1.15,1.13,1.12,1.11,1.10,1.09,1.09,1.08,1.07,1.07,1.06,1.05,1.05,1.04,1.04,1.04,1.03,1.03,1.02,1.01,1.01,1.01,1.01,1.00,1.00,1.00];
const A_NVD_5 = [null,1.21,1.20,1.16,0.46,1.14,1.16,1.15,1.14,1.13,1.12,1.11,1.11,1.11,1.12,1.12,1.11,1.09,1.07,1.06,1.05,1.04,1.03,1.03,1.02,1.01,1.01,1.00,0.99,0.99,0.98,0.98,0.98,0.97,0.97,0.96,0.95,0.95,0.95,0.95,0.94,0.94,0.94];
const A_NVD_2 = [1.30,1.29,1.27,1.05,1.08,1.24,1.25,1.23,1.22,1.22,1.20,1.20,1.20,1.21,1.21,1.20,1.19,1.17,1.15,1.15,1.13,1.12,1.12,1.11,1.10,1.10,1.09,1.09,1.08,1.07,1.07,1.07,1.06,1.06,1.05,1.05,1.04,1.04,1.04,1.03,1.03,1.03,1.03];
const A_NVD_4 = [1.24,1.24,1.21,0.92,0.95,1.18,1.19,1.17,1.16,1.16,1.14,1.14,1.14,1.14,1.15,1.14,1.13,1.11,1.09,1.09,1.07,1.06,1.06,1.05,1.04,1.04,1.03,1.02,1.02,1.01,1.01,1.01,1.00,1.00,0.99,0.98,0.98,0.98,0.98,0.97,0.97,0.97,0.97];
const A_NVD_6 = [1.36,1.18,1.33,1.15,1.12,1.12,1.31,1.11,1.29,1.10,1.27,1.08,1.26,1.08,1.28,1.08,1.25,1.05,1.22,1.02,1.20,1.00,1.18,0.99,1.17,0.98,1.16,0.96,1.14,0.95,1.13,0.95,1.12,0.94,1.12,0.92,1.10,0.92,1.10,0.91,1.09,0.91,1.09];
const A_NVD_7 = [1.31,1.24,1.29,1.15,0.72,1.22,1.25,1.18,1.23,1.16,1.21,1.15,1.20,1.14,1.21,1.16,1.19,1.12,1.16,1.10,1.14,1.08,1.12,1.07,1.11,1.05,1.10,1.04,1.08,1.03,1.07,1.02,1.07,1.01,1.06,1.00,1.04,0.99,1.04,0.99,1.03,0.98,1.03];
const A_NVD_8 = [1.25,1.30,1.23,0.65,1.15,1.18,1.24,1.19,1.22,1.17,1.20,1.15,1.19,1.16,1.21,1.16,1.15,1.15,1.10,1.14,1.08,1.12,1.06,1.11,1.05,1.10,1.04,1.09,1.02,1.08,1.01,1.07,1.01,1.06,1.00,1.05,0.99,1.04,0.98,1.04,0.98,1.03,0.98];
const A_NVD_exX = [-0.01,-0.005,0,0.005,0.01,0,-0.12,-0.1,1.6,1.62,-0.02,0.02];
const A_NVD_exY = [0.70,0.55,0.45,0.55,0.72,0.50,1.37,1.35,0.85,0.87,0.90,0.88];
const A_NVD_fitX = [-0.5,-0.2,-0.08,-0.05,-0.035,-0.02,-0.01,0,0.01,0.02,0.035,0.05,0.08,0.2,0.4,0.6,0.8,1.0,1.3,1.6,2.0];
const A_NVD_fitY = [1.13,1.20,1.23,1.23,1.15,0.95,0.70,0.44,0.70,0.95,1.15,1.24,1.24,1.20,1.15,1.11,1.08,1.06,1.04,1.02,1.01];

// ---------- layout ----------
const LEFT = [[139.5,426,708.5,994],[139.5,420,707.5,996.5]];
const WIDTH = [[231.5,230.5,232,232.5],[231.5,231,231,230]];
const TOP = [42, 259];
const HEIGHT = [155, 154];

function P(xa, xb, xc, xd, ex, fit) { return {xa: xa, xb: xb, xc: xc, xd: xd, ex: ex, fit: fit}; }
const panels = [
  [
    P([B_NVA_1,B_NVA_3,B_NVA_5],[B_NVA_2,B_NVA_4,B_NVA_6],[B_NVA_7,B_NVA_9],[B_NVA_8,B_NVA_10],[B_NVA_exX,B_NVA_exY],[B_NVA_fitX,B_NVA_fitY]),
    P([B_NVB_1,B_NVB_3,B_NVB_5],[B_NVB_2,B_NVB_4,B_NVB_6],[B_NVB_7,B_NVB_9],[B_NVB_8,B_NVB_10],[B_NVB_exX,B_NVB_exY],[B_NVB_fitX,B_NVB_fitY]),
    P([B_NVC_1,B_NVC_3,B_NVC_5],[B_NVC_2,B_NVC_4,B_NVC_6],[B_NVC_7,B_NVC_9],[B_NVC_8,B_NVC_10],[B_NVC_exX,B_NVC_exY],[B_NVC_fitX,B_NVC_fitY]),
    P([B_NVD_1,B_NVD_3,B_NVD_5],[B_NVD_2,B_NVD_4,B_NVD_6],[B_NVD_7,B_NVD_9],[B_NVD_8,B_NVD_10],[B_NVD_exX,B_NVD_exY],[B_NVD_fitX,B_NVD_fitY])
  ],[
    P([A_NVA_1,A_NVA_3,A_NVA_5],[A_NVA_2,A_NVA_4,A_NVA_6],[A_NVA_7],[A_NVA_8],[A_NVA_exX,A_NVA_exY],[A_NVA_fitX,A_NVA_fitY]),
    P([A_NVB_1,A_NVB_3,A_NVB_5],[A_NVB_2,A_NVB_4,A_NVB_6],[A_NVB_7],[A_NVB_8],[A_NVB_exX,A_NVB_exY],[A_NVB_fitX,A_NVB_fitY]),
    P([A_NVC_1,A_NVC_3,A_NVC_5],[A_NVC_2,A_NVC_4,A_NVC_6],[A_NVC_7],[A_NVC_8],[A_NVC_exX,A_NVC_exY],[A_NVC_fitX,A_NVC_fitY]),
    P([A_NVD_1,A_NVD_3,A_NVD_5],[A_NVD_2,A_NVD_4,A_NVD_6],[A_NVD_7],[A_NVD_8],[A_NVD_exX,A_NVD_exY],[A_NVD_fitX,A_NVD_fitY])
  ]
];

function pts(xs, ys) {
  const out = [];
  for (let i = 0; i < xs.length; i++) if (ys[i] != null) out.push([xs[i], ys[i]]);
  return out;
}

const FONT = 'Liberation Sans, Arial, Helvetica, sans-serif';
const AXIS_COL = '#5a5a5a';
const TXT_COL = '#262626';
const NAVY = '#0f1a6c';
const YELLOW = '#eabf0c';
const GREEN = '#4e8d38';
const ORANGE = '#ff8f00';

const grids = [], xAxes = [], yAxes = [], series = [], graphics = [];

for (let r = 0; r < 2; r++) {
  for (let c = 0; c < 4; c++) {
    const g = r * 4 + c;
    const L = LEFT[r][c], W = WIDTH[r][c], T = TOP[r], H = HEIGHT[r];
    grids.push({left: L, top: T, width: W, height: H, show: true, borderColor: AXIS_COL, borderWidth: 1, containLabel: false});
    const tickStyle = {show: true, inside: true, length: 4, lineStyle: {color: AXIS_COL, width: 1}};
    xAxes.push({gridIndex: g, type: 'value', position: 'bottom', min: -0.5, max: 2,
      axisLine: {show: false, onZero: false}, splitLine: {show: false},
      axisTick: Object.assign({customValues: xTicks}, tickStyle),
      axisLabel: {show: r === 1, customValues: xTicks, margin: 12, fontSize: 22, color: TXT_COL, fontFamily: FONT}});
    xAxes.push({gridIndex: g, type: 'value', position: 'top', min: -0.5, max: 2,
      axisLine: {show: false, onZero: false}, splitLine: {show: false},
      axisTick: Object.assign({customValues: xTicks}, tickStyle), axisLabel: {show: false}});
    yAxes.push({gridIndex: g, type: 'value', position: 'left', min: -0.15, max: 1.7,
      axisLine: {show: false, onZero: false}, splitLine: {show: false},
      axisTick: Object.assign({customValues: yTicks}, tickStyle),
      axisLabel: {customValues: yTicks, margin: 9, fontSize: 22, color: TXT_COL, fontFamily: FONT,
        formatter: v => v.toFixed(1)}});
    yAxes.push({gridIndex: g, type: 'value', position: 'right', min: -0.15, max: 1.7,
      axisLine: {show: false, onZero: false}, splitLine: {show: false},
      axisTick: Object.assign({customValues: yTicks}, tickStyle), axisLabel: {show: false}});

    const p = panels[r][c];
    let data = [];
    p.xa.forEach(row => { data = data.concat(pts(XA, row)); });
    p.xb.forEach(row => { data = data.concat(pts(XB, row)); });
    p.xc.forEach(row => { data = data.concat(pts(XC, row)); });
    p.xd.forEach(row => { data = data.concat(pts(XD, row)); });
    data = data.concat(pts(p.ex[0], p.ex[1]));
    if (r === 0) {
      series.push({type: 'scatter', xAxisIndex: 2 * g, yAxisIndex: 2 * g, data: data,
        symbol: 'circle', symbolSize: 8,
        itemStyle: {color: 'rgba(0,0,0,0)', borderColor: NAVY, borderWidth: 1.4, opacity: 1}});
    } else {
      series.push({type: 'scatter', xAxisIndex: 2 * g, yAxisIndex: 2 * g, data: data,
        symbol: 'path://M0 0L10 10M10 0L0 10', symbolSize: 5.5,
        itemStyle: {color: 'none', borderColor: GREEN, borderWidth: 1.5, opacity: 1}});
    }
    series.push({type: 'line', xAxisIndex: 2 * g, yAxisIndex: 2 * g, data: pts(p.fit[0], p.fit[1]),
      showSymbol: false, symbol: 'none', smooth: false, clip: true,
      lineStyle: {color: r === 0 ? YELLOW : ORANGE, width: 2.6}});

    const cx = L + W / 2;
    const g0 = r === 0 ? g0Before[c] : g0After[c];
    graphics.push({type: 'text', x: cx, y: T - 17, scaleX: 1.1, style: {
      text: '{m|g}{s|(2)}{m|(0) =' + g0 + '}', align: 'center', verticalAlign: 'middle',
      rich: {m: {fontSize: 27, fontWeight: 'bold', fontFamily: FONT, fill: '#000', lineHeight: 32, verticalAlign: 'bottom'},
             s: {fontSize: 18, fontWeight: 'bold', fontFamily: FONT, fill: '#000', lineHeight: 15, verticalAlign: 'top'}}}});
    graphics.push({type: 'text', x: L + W - 9, y: T + H - 5, scaleX: 1.1, style: {
      text: emitters[c], align: 'right', verticalAlign: 'bottom', fontSize: 27, fontFamily: FONT, fill: '#000'}});
    if (r === 1) {
      graphics.push({type: 'text', x: cx, y: 464, style: {
        text: '{t|\u03c4}{n| (}{t|\u03bc}{n|s)}', align: 'center', verticalAlign: 'middle',
        rich: {n: {fontSize: 24, fontFamily: FONT, fill: TXT_COL}, t: {fontSize: 25, fontFamily: 'DejaVu Serif', fontStyle: 'italic', fill: TXT_COL}}}});
    }
    if (c === 0) {
      graphics.push({type: 'text', x: 80, y: T + H / 2, rotation: Math.PI / 2, style: {
        text: '{m|g}{s|(2)}{m|(}{t|\u03c4}{m|)}', align: 'center', verticalAlign: 'middle',
        rich: {m: {fontSize: 25, fontFamily: FONT, fill: TXT_COL, lineHeight: 30, verticalAlign: 'bottom'},
               s: {fontSize: 18, fontFamily: FONT, fill: TXT_COL, lineHeight: 14, verticalAlign: 'top'},
               t: {fontSize: 24, fontFamily: 'DejaVu Serif', fontStyle: 'italic', fill: TXT_COL, lineHeight: 30, verticalAlign: 'bottom'}}}});
      graphics.push({type: 'text', x: 24, y: T + H / 2 - 2, rotation: Math.PI / 2, style: {
        text: rowLabels[r], align: 'center', verticalAlign: 'middle', fontSize: 34, fontFamily: FONT, fill: '#000'}});
    }
  }
}

const chart = echarts.init(document.getElementById('c'), null, {renderer: 'canvas'});
chart.setOption({
  animation: false,
  backgroundColor: '#fff',
  grid: grids, xAxis: xAxes, yAxis: yAxes, series: series,
  graphic: graphics
});
</script></body></html>
